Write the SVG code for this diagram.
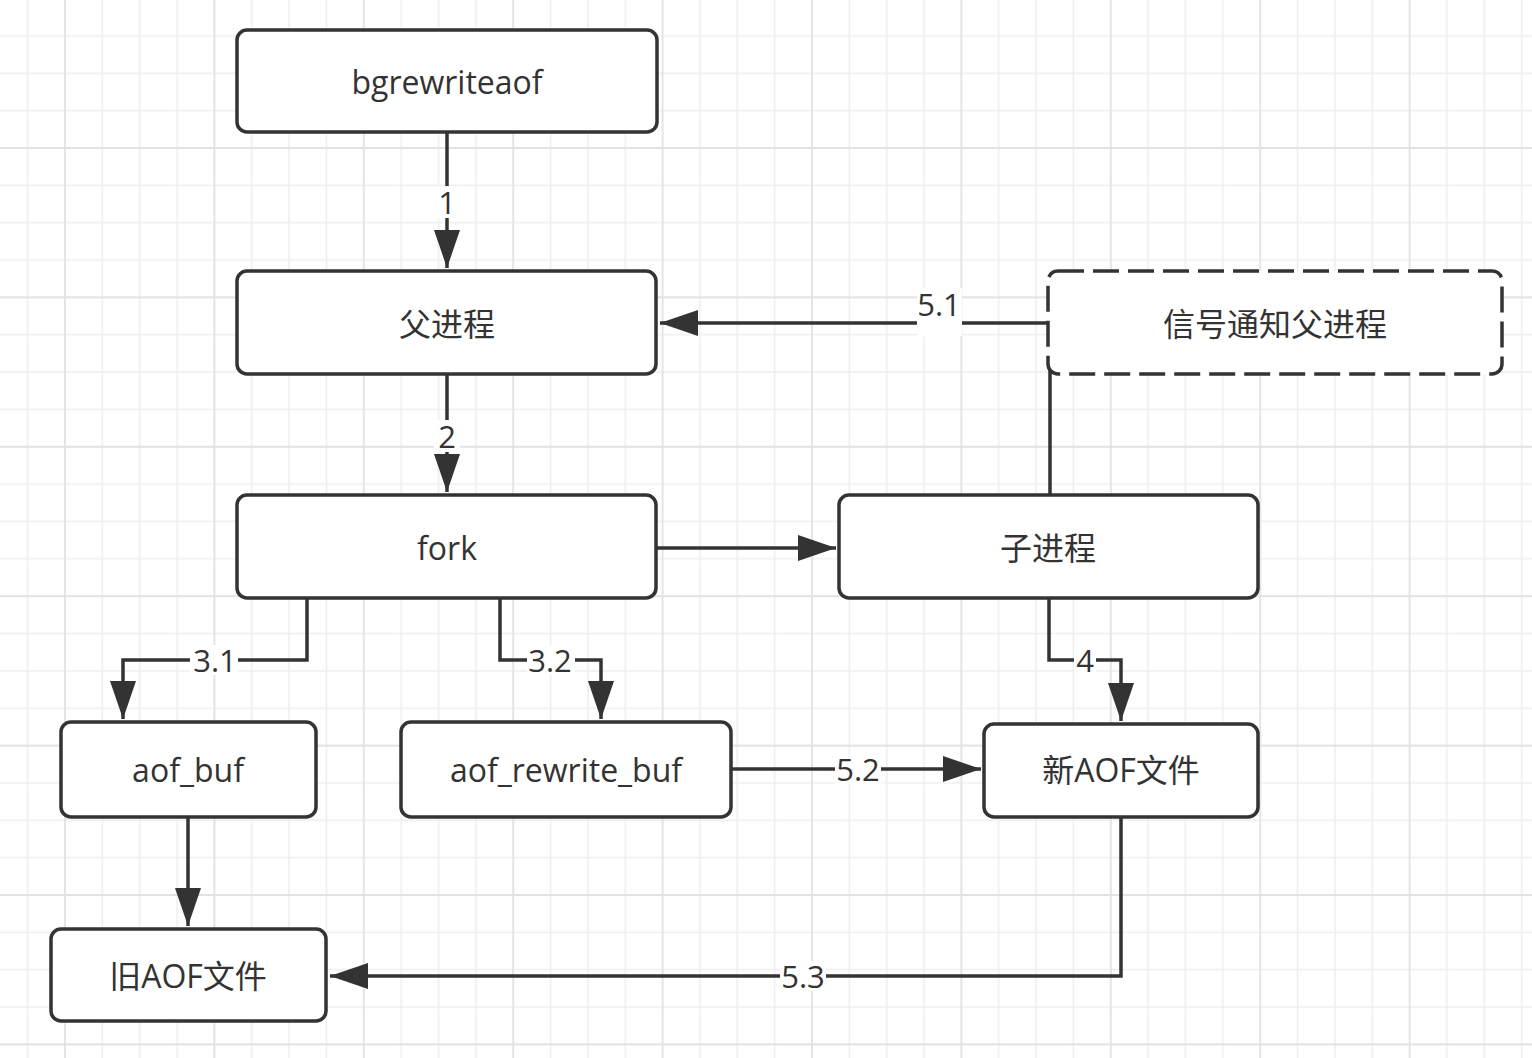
<svg xmlns="http://www.w3.org/2000/svg" width="1532" height="1058" viewBox="0 0 1532 1058">
  <style>
    .node rect { fill: #ffffff; stroke: #333333; stroke-width: 3.5; }
    .node rect.dashed { stroke-dasharray: 26 9; }
    .node text { font-family: "Open Sans", "Noto Sans CJK SC", sans-serif; font-size: 32px; fill: #333333; text-anchor: middle; dominant-baseline: central; }
    .edge { fill: none; stroke: #333333; stroke-width: 3.5; }
    .arrow { marker-end: url(#head); }
    .lbl-bg { fill: #ffffff; }
    .lbl { font-family: "Open Sans", "Noto Sans CJK SC", sans-serif; font-size: 31px; fill: #333333; text-anchor: middle; dominant-baseline: central; }
    .minor { stroke: #eeeeee; stroke-width: 1.6; }
    .major { stroke: #e2e2e2; stroke-width: 1.8; }
  </style>
  <defs>
    <pattern id="grid" x="64" y="147" width="149.4" height="149.4" patternUnits="userSpaceOnUse">
      <line class="minor" x1="38.35" y1="0" x2="38.35" y2="149.4"/>
      <line class="minor" x1="75.7" y1="0" x2="75.7" y2="149.4"/>
      <line class="minor" x1="113.05" y1="0" x2="113.05" y2="149.4"/>
      <line class="minor" x1="0" y1="38.35" x2="149.4" y2="38.35"/>
      <line class="minor" x1="0" y1="75.7" x2="149.4" y2="75.7"/>
      <line class="minor" x1="0" y1="113.05" x2="149.4" y2="113.05"/>
      <line class="major" x1="1" y1="0" x2="1" y2="149.4"/>
      <line class="major" x1="0" y1="1" x2="149.4" y2="1"/>
    </pattern>
    <marker id="head" markerUnits="userSpaceOnUse" markerWidth="40" markerHeight="28" refX="38" refY="13" orient="auto" viewBox="0 0 40 28">
      <path d="M0,0 L38,13 L0,26 Z" fill="#333333"/>
    </marker>
  </defs>

  <rect x="0" y="0" width="1532" height="1058" fill="#ffffff"/>
  <rect x="0" y="0" width="1532" height="1058" fill="url(#grid)"/>

  <g id="connectors">
    <path class="edge arrow" d="M447,132 L447,268"/>
    <path class="edge arrow" d="M447,374 L447,492"/>
    <path class="edge arrow" d="M1050,495 L1050,323 L660,323"/>
    <path class="edge arrow" d="M656,548 L836,548"/>
    <path class="edge arrow" d="M307,598 L307,660 L123,660 L123,719"/>
    <path class="edge arrow" d="M500,598 L500,660 L601,660 L601,719"/>
    <path class="edge arrow" d="M1049,598 L1049,660 L1121,660 L1121,721"/>
    <path class="edge arrow" d="M188,817 L188,926"/>
    <path class="edge arrow" d="M731,769 L981,769"/>
    <path class="edge arrow" d="M1121,817 L1121,976 L330,976"/>

    <rect class="lbl-bg" x="434" y="186" width="26" height="32"/>
    <text class="lbl" x="447" y="202">1</text>
    <rect class="lbl-bg" x="434" y="420" width="26" height="32"/>
    <text class="lbl" x="447" y="436">2</text>
    <rect class="lbl-bg" x="917" y="288" width="45" height="48"/>
    <text class="lbl" x="939" y="304">5.1</text>
    <rect class="lbl-bg" x="190" y="645" width="48" height="30"/>
    <text class="lbl" x="215" y="660">3.1</text>
    <rect class="lbl-bg" x="527" y="645" width="48" height="30"/>
    <text class="lbl" x="550" y="660">3.2</text>
    <rect class="lbl-bg" x="1074" y="645" width="22" height="30"/>
    <text class="lbl" x="1085" y="660">4</text>
    <rect class="lbl-bg" x="835" y="754" width="46" height="30"/>
    <text class="lbl" x="858" y="769">5.2</text>
    <rect class="lbl-bg" x="780" y="961" width="46" height="30"/>
    <text class="lbl" x="803" y="976">5.3</text>
  </g>

  <g id="node-bgrewriteaof" class="node">
    <rect x="237" y="30" width="420" height="102" rx="10"/>
    <text x="447" y="81">bgrewriteaof</text>
  </g>
  <g id="node-parent" class="node">
    <rect x="237" y="271" width="419" height="103" rx="10"/>
    <text x="447" y="323">父进程</text>
  </g>
  <g id="node-signal" class="node">
    <rect class="dashed" x="1048" y="271" width="454" height="103" rx="10"/>
    <text x="1275" y="323">信号通知父进程</text>
  </g>
  <g id="node-fork" class="node">
    <rect x="237" y="495" width="419" height="103" rx="10"/>
    <text x="447" y="547">fork</text>
  </g>
  <g id="node-child" class="node">
    <rect x="839" y="495" width="419" height="103" rx="10"/>
    <text x="1048" y="547">子进程</text>
  </g>
  <g id="node-aof-buf" class="node">
    <rect x="61" y="722" width="255" height="95" rx="10"/>
    <text x="188" y="769">aof_buf</text>
  </g>
  <g id="node-aof-rewrite-buf" class="node">
    <rect x="401" y="722" width="330" height="95" rx="10"/>
    <text x="566" y="769">aof_rewrite_buf</text>
  </g>
  <g id="node-new-aof" class="node">
    <rect x="984" y="724" width="274" height="93" rx="10"/>
    <text x="1121" y="769">新AOF文件</text>
  </g>
  <g id="node-old-aof" class="node">
    <rect x="51" y="929" width="275" height="92" rx="10"/>
    <text x="188" y="975">旧AOF文件</text>
  </g>
</svg>
